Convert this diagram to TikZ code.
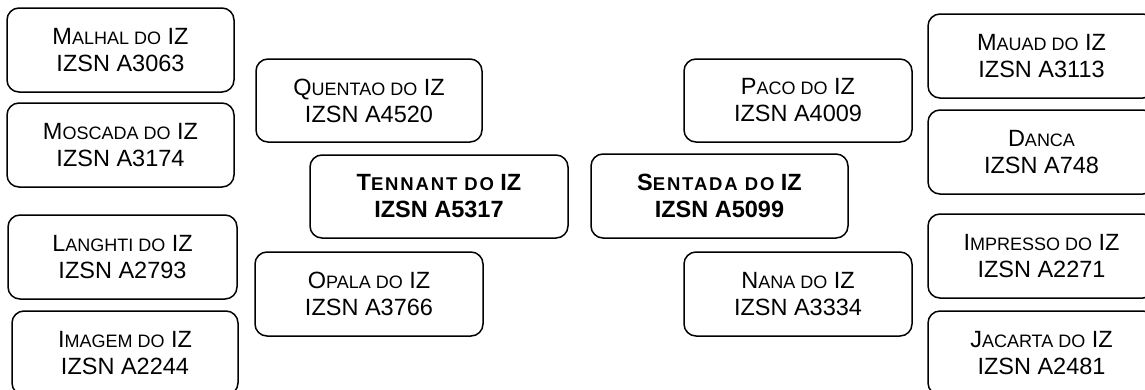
\documentclass[tikz,border=0pt]{standalone}
\usepackage{fontspec}
\setmainfont{Liberation Sans}
\newcommand\sm[1]{{\fontsize{18}{18}\selectfont #1}}
\newcommand\bsm[1]{{\addfontfeatures{LetterSpace=10}\fontsize{18.5}{18.5}\selectfont #1}}
\tikzset{
  box/.style={draw=black, line width=1.5pt, rounded corners=12pt, rectangle,
    align=center, inner sep=0pt, minimum width=227pt, minimum height=84pt,
    font=\fontsize{23.5}{27}\selectfont},
  mainbox/.style={box, minimum width=258pt, font=\fontsize{23.5}{27}\selectfont\bfseries}
}
\begin{document}
\begin{tikzpicture}[x=1pt,y=-1pt]
\useasboundingbox (0,0) rectangle (1145,389);
\clip (0,0) rectangle (1145,389);
\node[box] (malhal) at (120.5,50) {M\sm{ALHAL DO} IZ\\IZSN A3063};
\node[box] (moscada) at (120.5,145) {M\sm{OSCADA DO} IZ\\IZSN A3174};
\node[box, minimum width=229pt] (langhti) at (122.5,257) {L\sm{ANGHTI DO} IZ\\IZSN A2793};
\node[box, minimum width=226pt] (imagem) at (125,353) {I\sm{MAGEM DO} IZ\\IZSN A2244};
\node[box, minimum width=226pt, minimum height=83pt] (quentao) at (369,100.5) {Q\sm{UENTAO DO} IZ\\IZSN A4520};
\node[mainbox, minimum height=83pt] (tennant) at (439,196.5) {T\bsm{ENNANT DO} IZ\\IZSN A5317};
\node[box, minimum width=228pt] (opala) at (369,294) {O\sm{PALA DO} IZ\\IZSN A3766};
\node[box, minimum width=228pt, minimum height=83pt] (paco) at (798,100.5) {P\sm{ACO DO} IZ\\IZSN A4009};
\node[mainbox, minimum width=257pt] (sentada) at (719.5,196) {S\bsm{ENTADA DO} IZ\\IZSN A5099};
\node[box, minimum width=228pt] (nana) at (798,294) {N\sm{ANA DO} IZ\\IZSN A3334};
\node[box] (mauad) at (1041.5,56) {M\sm{AUAD DO} IZ\\IZSN A3113};
\node[box] (danca) at (1041.5,152) {D\sm{ANCA}\\IZSN A748};
\node[box] (impresso) at (1041.5,256) {I\sm{MPRESSO DO} IZ\\IZSN A2271};
\node[box] (jacarta) at (1041.5,353) {J\sm{ACARTA DO} IZ\\IZSN A2481};
\end{tikzpicture}
\end{document}
